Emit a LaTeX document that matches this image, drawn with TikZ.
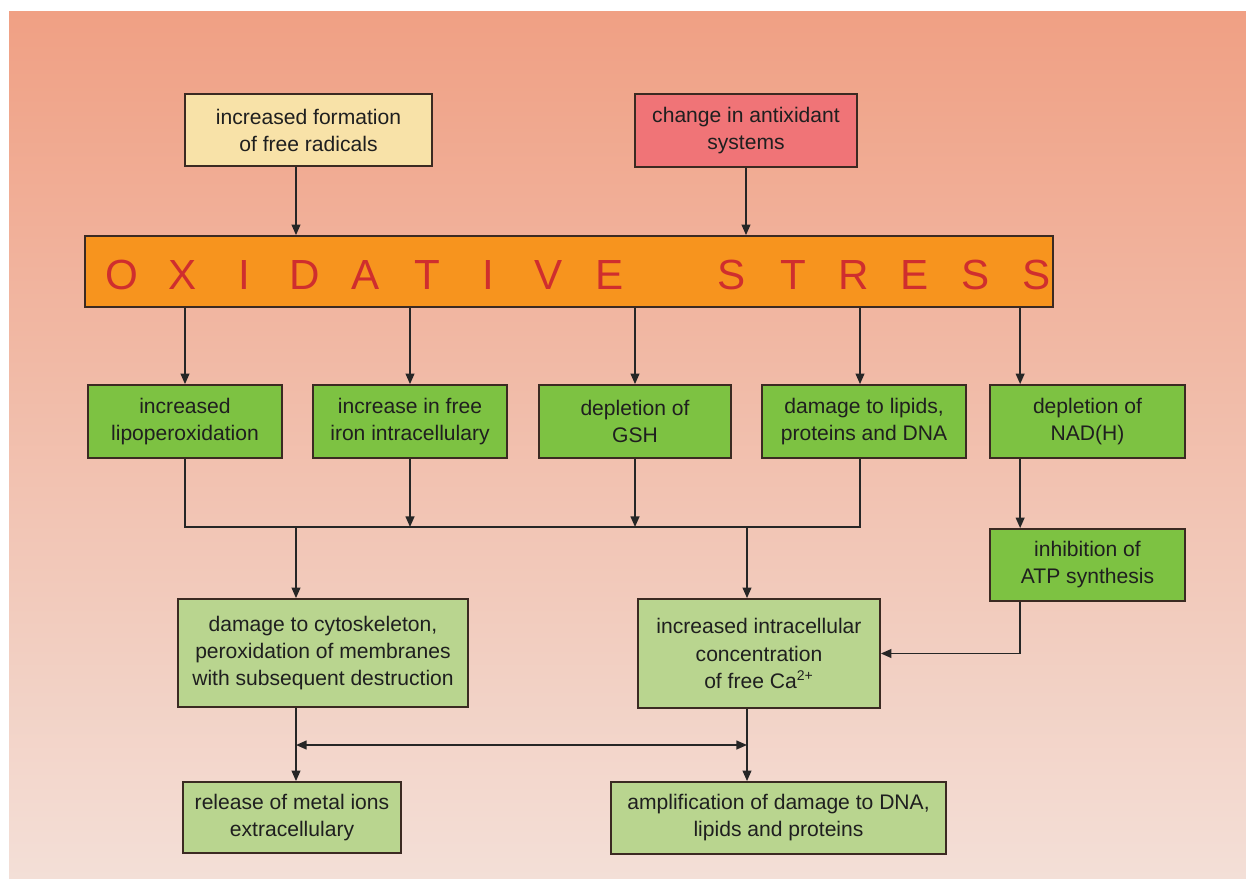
\documentclass[tikz,border=0pt]{standalone}
\usepackage{fontspec}
\setmainfont{Liberation Sans}
\usetikzlibrary{positioning, arrows.meta, calc}
\definecolor{bgtop}{HTML}{F0A084}
\definecolor{bgbottom}{HTML}{F3DFD7}
\definecolor{paleyellow}{HTML}{F8E2A8}
\definecolor{coralred}{HTML}{F07477}
\definecolor{stressorange}{HTML}{F7941E}
\definecolor{stressred}{HTML}{CF2E2E}
\definecolor{leafgreen}{HTML}{7DC242}
\definecolor{palegreen}{HTML}{B9D58F}
\definecolor{edgebrown}{HTML}{3B2A22}

\newcommand{\lbox}[1]{\makebox[1.22cm]{#1}}

\begin{document}
\begin{tikzpicture}[
    x=0.02cm, y=-0.02cm,
    box/.style={rectangle, draw=edgebrown, line width=1pt, align=center, font=\fontsize{12}{15.4}\selectfont, text=black!88, inner sep=2pt},
    cause/.style={box, minimum height=1.45cm},
    effect/.style={box, fill=leafgreen, minimum height=1.46cm},
    result/.style={box, fill=palegreen},
    stressbox/.style={rectangle, draw=edgebrown, line width=1pt, fill=stressorange, minimum width=19.36cm, minimum height=1.42cm},
    stresstext/.style={inner sep=0pt, text=stressred, font=\fontsize{24}{28}\selectfont},
    arrow/.style={-{Triangle[width=5pt,length=6pt]}, line width=0.9pt, black!85},
    biarrow/.style={{Triangle[width=5pt,length=6pt]}-{Triangle[width=5pt,length=6pt]}, line width=0.9pt, black!85},
    link/.style={line width=0.9pt, black!85}
]
    % Backdrop
    \useasboundingbox (0,0) rectangle (1246,878);
    \fill[white] (0,0) rectangle (1246,878);
    \fill[top color=bgtop, bottom color=bgbottom] (9,12) rectangle (1246,878);

    % Causes
    \node[cause, fill=paleyellow, minimum width=4.94cm] (radicals) at (308.5,130) {increased formation\\of free radicals};
    \node[cause, fill=coralred, minimum width=4.44cm] (antiox) at (746,130.5) {change in antixidant\\systems};

    % Oxidative stress bar
    \node[stressbox] (stress) at (569,271.5) {};
    \node[stresstext] (stresslabel) at (579.5,275) {\lbox{O}\lbox{X}\lbox{I}\lbox{D}\lbox{A}\lbox{T}\lbox{I}\lbox{V}\lbox{E}\lbox{}\lbox{S}\lbox{T}\lbox{R}\lbox{E}\lbox{S}\lbox{S}};

    % Direct effects
    \node[effect, minimum width=3.88cm] (lipox) at (185,421.5) {increased\\lipoperoxidation};
    \node[effect, minimum width=3.88cm] (iron) at (410,421.5) {increase in free\\iron intracellulary};
    \node[effect, minimum width=3.84cm] (gsh) at (635,421.5) {depletion of\\GSH};
    \node[effect, minimum width=4.08cm] (damage) at (864,421.5) {damage to lipids,\\proteins and DNA};
    \node[effect, minimum width=3.9cm] (nad) at (1087.5,421.5) {depletion of\\NAD(H)};
    \node[effect, minimum width=3.9cm, minimum height=1.44cm] (atp) at (1087.5,565) {inhibition of\\ATP synthesis};

    % Secondary effects
    \node[result, minimum width=5.8cm, minimum height=2.16cm] (cyto) at (323,653) {damage to cytoskeleton,\\peroxidation of membranes\\with subsequent destruction};
    \node[result, minimum width=4.84cm, minimum height=2.18cm] (calcium) at (759,653.5) {increased intracellular\\concentration\\of free Ca\textsuperscript{2+}};
    \node[result, minimum width=4.36cm, minimum height=1.42cm] (metal) at (292,817.5) {release of metal ions\\extracellulary};
    \node[result, minimum width=6.7cm, minimum height=1.44cm] (amplify) at (778.5,818) {amplification of damage to DNA,\\lipids and proteins};

    % Helper coordinates
    \coordinate (leftcol) at (296,0);
    \coordinate (rightcol) at (747,0);
    \coordinate (merge) at (0,527);
    \coordinate (cross) at (0,745);
    \coordinate (nadtap) at ([xshift=0.62cm]nad.north west);

    % Connections
    \draw[arrow] (radicals.south -| leftcol) -- (stress.north -| leftcol);
    \draw[arrow] (antiox.south) -- (antiox.south |- stress.north);
    \draw[arrow] (stress.south -| lipox) -- (lipox.north);
    \draw[arrow] (stress.south -| iron) -- (iron.north);
    \draw[arrow] (stress.south -| gsh) -- (gsh.north);
    \draw[arrow] ([xshift=-0.08cm]stress.south -| damage) -- ([xshift=-0.08cm]damage.north);
    \draw[arrow] (stress.south -| nadtap) -- (nadtap);
    \draw[arrow] (nad.south -| nadtap) -- (atp.north -| nadtap);
    \draw[arrow] (atp.south -| nadtap) |- (calcium.east);

    % Merging bus
    \draw[link] (lipox.south) -- (lipox.south |- merge) -- ([xshift=-0.08cm]damage.south |- merge) -- ([xshift=-0.08cm]damage.south);
    \draw[arrow] (iron.south) -- (iron.south |- merge);
    \draw[arrow] (gsh.south) -- (gsh.south |- merge);
    \draw[arrow] (leftcol |- merge) -- (cyto.north -| leftcol);
    \draw[arrow] (rightcol |- merge) -- (calcium.north -| rightcol);

    % Lower level
    \draw[arrow] (cyto.south -| leftcol) -- (metal.north -| leftcol);
    \draw[arrow] (calcium.south -| rightcol) -- (amplify.north -| rightcol);
    \draw[biarrow] (leftcol |- cross) -- (rightcol |- cross);
\end{tikzpicture}
\end{document}
